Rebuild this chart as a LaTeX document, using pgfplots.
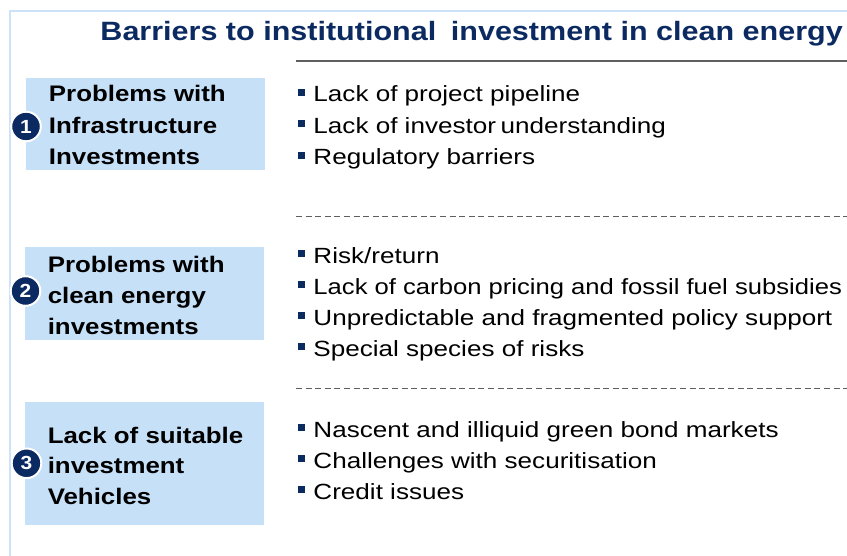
\documentclass[border=0pt]{standalone}
\usepackage{fontspec}
\setmainfont{Liberation Sans}
\usepackage{pgfplots}
\pgfplotsset{compat=1.18}

\definecolor{navy}{RGB}{12,42,98}
\definecolor{boxblue}{RGB}{198,224,248}
\definecolor{framecol}{RGB}{206,226,247}
\definecolor{rulegray}{RGB}{95,95,95}

\tikzset{
  body/.style={anchor=base west, inner sep=0pt, xscale=1.185, font=\fontsize{11}{13}\selectfont},
  head/.style={anchor=base west, inner sep=0pt, xscale=1.15, font=\fontsize{11.25}{13}\selectfont\bfseries},
}

\begin{document}
\begin{tikzpicture}
\begin{axis}[
    name=main,
    width=423.5pt, height=278pt, scale only axis,
    xmin=0, xmax=847, ymin=0, ymax=556,
    y dir=reverse,
    hide axis, clip=true,
]
% page extent
\addplot[draw=none] coordinates {(0,0) (847,556)};
% frame
\addplot[framecol, line width=1pt] coordinates {(10,560) (10,11.5) (850,11.5)};

% title and rules
\node[anchor=base west, inner sep=0pt, xscale=1.152, text=navy,
      font=\fontsize{13.25}{15}\selectfont\bfseries] at (axis cs:100,41)
      {Barriers to institutional\hspace{0.2em} investment in clean energy};
\addplot[rulegray, line width=1pt] coordinates {(296,61) (850,61)};
\addplot[rulegray, line width=0.5pt, dash pattern=on 3pt off 1.8pt] coordinates {(296,216.7) (850,216.7)};
\addplot[rulegray, line width=0.5pt, dash pattern=on 3pt off 1.8pt] coordinates {(296,388.3) (850,388.3)};

% boxes
\addplot[fill=boxblue, draw=none] coordinates {(26,78) (265,78) (265,170) (26,170)};
\addplot[fill=boxblue, draw=none] coordinates {(25,246.7) (264,246.7) (264,340) (25,340)};
\addplot[fill=boxblue, draw=none] coordinates {(25,401.7) (264,401.7) (264,525) (25,525)};

% box headings
\node[head] at (axis cs:48.5,102) {Problems with};
\node[head] at (axis cs:48.5,133.5) {Infrastructure};
\node[head] at (axis cs:48.5,165) {Investments};

\node[head] at (axis cs:47.3,272.7) {Problems with};
\node[head] at (axis cs:47.3,303.5) {clean energy};
\node[head] at (axis cs:47.3,334.3) {investments};

\node[head] at (axis cs:47.3,443.3) {Lack of suitable};
\node[head] at (axis cs:47.3,473.6) {investment};
\node[head] at (axis cs:47.3,504) {Vehicles};

% numbered circles
\addplot[only marks, mark=*, mark size=7.4pt,
         mark options={fill=navy, draw=white, line width=1pt},
         point meta=explicit symbolic, nodes near coords,
         nodes near coords align={center},
         every node near coord/.style={inner sep=0pt, text=white, xscale=1.1,
            font=\fontsize{9.5}{11}\selectfont\bfseries}]
  coordinates {(26,126.5) [1] (25.5,291) [2] (26.5,463.3) [3]};

% bullet squares
\addplot[only marks, mark=square*, mark size=1.5pt, mark options={fill=navy, draw=navy}]
  coordinates {(301,92) (301,123.5) (301,155)
               (301,253.3) (301,284) (301,315.7) (301,346.7)
               (301,427.3) (301,458.3) (301,489.3)};

% bullet texts
\node[body] at (axis cs:313,102) {Lack of project pipeline};
\node[body] at (axis cs:313,133.5) {Lack of investor\hspace{-0.1em} understanding};
\node[body] at (axis cs:313,165) {Regulatory barriers};

\node[body] at (axis cs:313,263.3) {Risk/return};
\node[body, xscale=0.983] at (axis cs:313,294) {Lack of carbon pricing and fossil fuel subsidies};
\node[body] at (axis cs:313,325.7) {Unpredictable and fragmented policy support};
\node[body] at (axis cs:313,356.7) {Special species of risks};

\node[body] at (axis cs:313,437.3) {Nascent and illiquid green bond markets};
\node[body] at (axis cs:313,468.3) {Challenges with securitisation};
\node[body] at (axis cs:313,499.3) {Credit issues};
\end{axis}
\pgfresetboundingbox
\path (main.south west) rectangle (main.north east);
\end{tikzpicture}
\end{document}
